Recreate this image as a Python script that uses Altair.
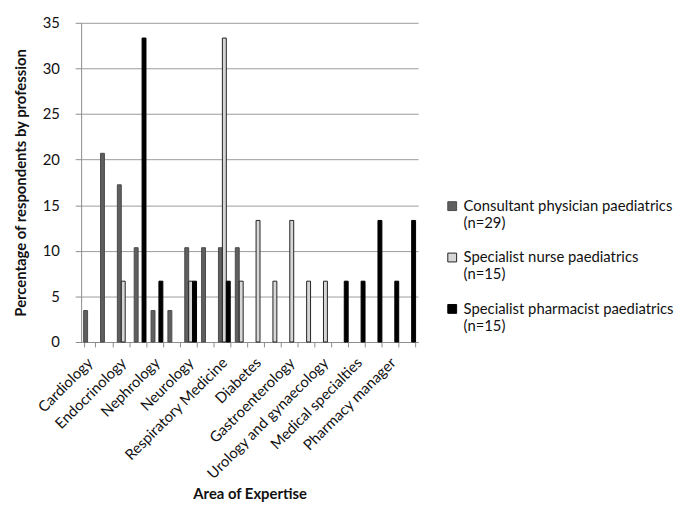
import json
import altair as alt
import pandas as pd

# 20 areas of expertise; only every other one is labelled in the original
labels = ["Cardiology", "", "Endocrinology", "", "Nephrology", "", "Neurology", "",
          "Respiratory Medicine", "", "Diabetes", "", "Gastroenterology", "",
          "Urology and gynaecology", "", "Medical specialties", "", "Pharmacy manager", ""]

series = ["Consultant physician paediatrics|(n=29)",
          "Specialist nurse paediatrics|(n=15)",
          "Specialist pharmacist paediatrics|(n=15)"]

consultant = [3.45, 20.69, 17.24, 10.34, 3.45, 3.45, 10.34, 10.34, 10.34, 10.34,
              0, 0, 0, 0, 0, 0, 0, 0, 0, 0]
nurse = [0, 0, 6.67, 0, 0, 0, 6.67, 0, 33.33, 6.67,
         13.33, 6.67, 13.33, 6.67, 6.67, 0, 0, 0, 0, 0]
pharmacist = [0, 0, 0, 33.33, 6.67, 0, 6.67, 0, 6.67, 0,
              0, 0, 0, 0, 0, 6.67, 6.67, 13.33, 6.67, 13.33]

fills = ["#5f5f5f", "#d6d6d6", "#000000"]
strokes = ["#4a4a4a", "#222222", "#000000"]

rows = []
for s, vals in zip(series, [consultant, nurse, pharmacist]):
    for i, v in enumerate(vals):
        if v > 0:
            rows.append({"idx": i, "series": s, "value": v})
df = pd.DataFrame(rows)

FONT = "Lato"
label_js = json.dumps(labels)


def make_legend():
    return alt.Legend(title=None, orient="none", legendX=368, legendY=178,
                      labelExpr="split(datum.label, '|')",
                      labelFontSize=15, labelFont=FONT, labelColor="#111",
                      labelLimit=300, symbolType="square", symbolSize=80,
                      symbolStrokeWidth=1, rowPadding=19, padding=0,
                      labelBaseline="middle")


chart = alt.Chart(df).mark_bar(strokeWidth=1).encode(
    x=alt.X("idx:O",
            scale=alt.Scale(domain=list(range(len(labels))), paddingInner=0.30, paddingOuter=0.15),
            axis=alt.Axis(title="Area of Expertise", labelExpr=f"{label_js}[datum.value]",
                          labelAngle=-45, labelAlign="right", labelBaseline="middle",
                          labelPadding=13, tickBand="extent", ticks=True, tickSize=5,
                          tickColor="#8c8c8c", domainColor="#8c8c8c",
                          labelFontSize=15, titleFontSize=15, titleFontWeight="bold",
                          titlePadding=5, labelColor="#111", titleColor="#111",
                          labelFont=FONT, titleFont=FONT, grid=False)),
    xOffset=alt.XOffset("series:N", scale=alt.Scale(domain=series, paddingInner=0, paddingOuter=0)),
    y=alt.Y("value:Q",
            scale=alt.Scale(domain=[0, 35]),
            axis=alt.Axis(title="Percentage of respondents by profession",
                          values=[0, 5, 10, 15, 20, 25, 30, 35],
                          tickSize=6, tickColor="#8c8c8c", domainColor="#8c8c8c",
                          gridColor="#9a9a9a", labelFontSize=15, titleFontSize=15,
                          titleFontWeight="bold", labelPadding=16, titlePadding=14,
                          labelColor="#111", titleColor="#111",
                          labelFont=FONT, titleFont=FONT)),
    fill=alt.Fill("series:N", scale=alt.Scale(domain=series, range=fills),
                  legend=make_legend()),
    stroke=alt.Stroke("series:N", scale=alt.Scale(domain=series, range=strokes),
                      legend=make_legend()),
).properties(width=341, height=323).configure_view(stroke=None)

chart.save("out.html", embed_options={"renderer": "svg", "actions": False})
